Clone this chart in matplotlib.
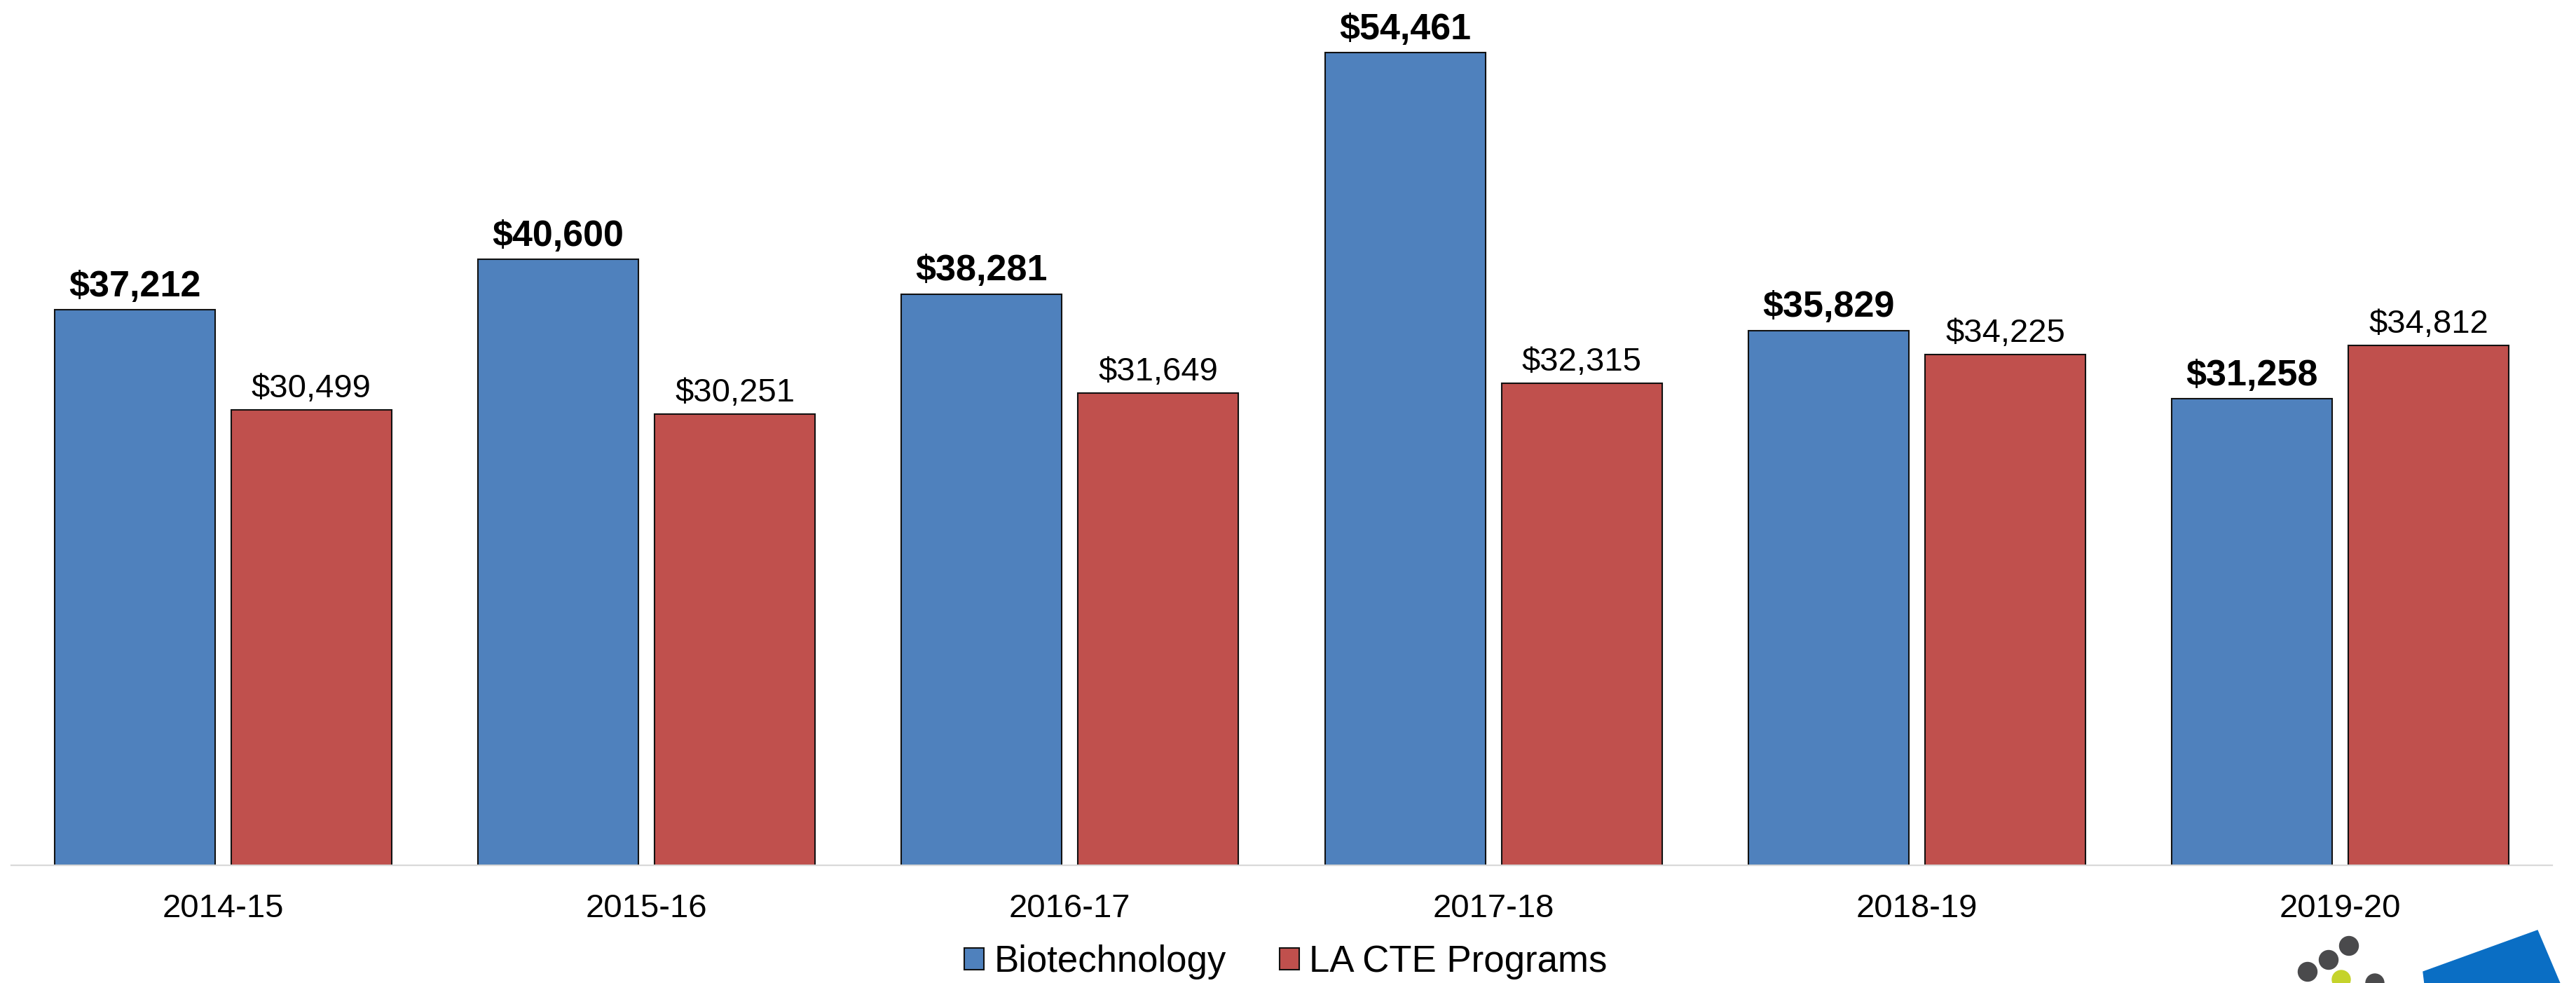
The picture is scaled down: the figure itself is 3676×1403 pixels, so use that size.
import matplotlib
matplotlib.use("Agg")
import matplotlib.pyplot as plt
from matplotlib.patches import Ellipse, Polygon
import numpy as np

plt.rcParams['font.family'] = ['Liberation Sans', 'DejaVu Sans']

categories = ["2014-15", "2015-16", "2016-17", "2017-18", "2018-19", "2019-20"]
biotech = [37212, 40600, 38281, 54461, 35829, 31258]
la_cte = [30499, 30251, 31649, 32315, 34225, 34812]
series_names = ["Biotechnology", "LA CTE Programs"]

W, H = 3676, 1403
fig = plt.figure(figsize=(W / 100, H / 100), dpi=100)
ax = fig.add_axes([16 / W, (H - 1235) / H, (3642 - 16) / W, 1235 / H])

x = np.arange(len(categories))
bw = 0.379
off = 0.2085
blue = "#4F81BD"
red = "#C0504D"
b1 = ax.bar(x - off, biotech, bw, color=blue, edgecolor="#111111", linewidth=1.5,
            label=series_names[0], zorder=3)
b2 = ax.bar(x + off, la_cte, bw, color=red, edgecolor="#111111", linewidth=1.5,
            label=series_names[1], zorder=3)

for xi, v in zip(x - off, biotech):
    ax.annotate(f"${v:,}", (xi, v), xytext=(0, 14), textcoords="offset points",
                ha="center", va="baseline", fontsize=37.5, fontweight="bold", color="black")
for xi, v in zip(x + off, la_cte):
    ax.annotate(f"${v:,}", (xi, v), xytext=(0, 13), textcoords="offset points",
                ha="center", va="baseline", fontsize=34, color="black")

ax.set_xlim(-0.5, 5.5)
ax.set_ylim(0, 57980)
ax.set_xticks(x)
ax.set_xticklabels(categories, fontsize=34)
ax.tick_params(axis="x", length=0, pad=29)
ax.set_yticks([])
for s in ["top", "right", "left"]:
    ax.spines[s].set_visible(False)
ax.spines["bottom"].set_color("#D9D9D9")
ax.spines["bottom"].set_linewidth(1.6)
ax.spines["bottom"].set_zorder(4)

fig.legend(handles=[b1, b2], labels=series_names, loc="center",
           bbox_to_anchor=(1835 / W, 1 - 1373 / H), ncol=2, frameon=False,
           fontsize=38, handlelength=0.53, handleheight=0.53, handletextpad=0.27,
           columnspacing=1.44, borderpad=0, borderaxespad=0)

# decorative logo fragment at bottom right
def px_circle(cx, cy, r, color):
    fig.patches.append(Ellipse((cx / W, 1 - cy / H), 2 * r / W, 2 * r / H,
                               transform=fig.transFigure, color=color, zorder=5))

gray = "#4A4A4C"
px_circle(3352, 1350, 13.5, gray)
px_circle(3323, 1370, 13.5, gray)
px_circle(3293, 1387, 13.5, gray)
px_circle(3341, 1398, 13, "#C5D32B")
px_circle(3389, 1403, 13, gray)
poly = [(3458, 1387), (3621, 1328), (3660, 1420), (3462, 1420)]
fig.patches.append(Polygon([(px / W, 1 - py / H) for px, py in poly], closed=True,
                           transform=fig.transFigure, color="#0A6EC4", zorder=5))

fig.savefig("out.png", dpi=100)
